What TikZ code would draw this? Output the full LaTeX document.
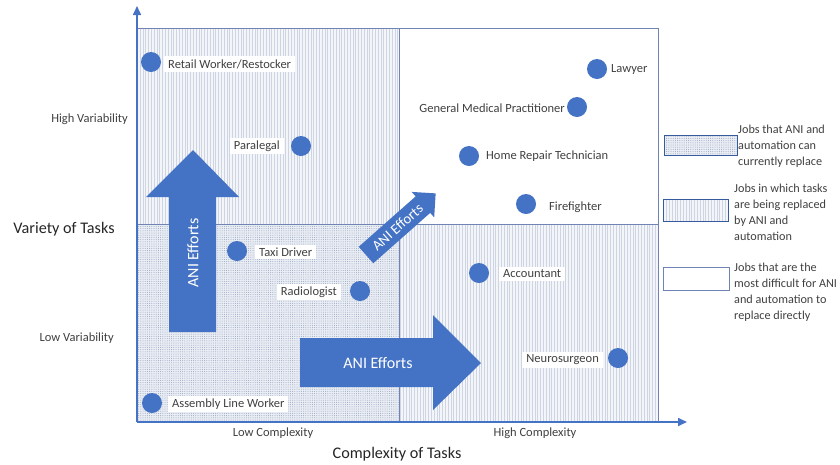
\documentclass[tikz,border=0pt]{standalone}
\usepackage{fontspec}
\setmainfont{Carlito}
\usetikzlibrary{patterns.meta,arrows.meta}
\definecolor{ablue}{HTML}{4472C4}
\definecolor{bord}{HTML}{6F84B2}
\definecolor{patdots}{HTML}{9AA6C0}
\definecolor{patlines}{HTML}{CDD4E4}
\definecolor{tintA}{HTML}{E9EDF4}
\definecolor{tintB}{HTML}{F3F5F9}
\definecolor{txt}{HTML}{404040}
\definecolor{ttl}{HTML}{262626}
\tikzset{
  dotfill/.style={fill=tintA, postaction={pattern={Dots[distance=2.2pt,radius=0.5pt]}, pattern color=patdots}},
  linefill/.style={fill=tintB, postaction={pattern={Lines[angle=90,distance=2.8pt,line width=0.4pt]}, pattern color=patlines}},
  quadborder/.style={draw=bord, line width=0.9pt},
  jdot/.style={circle, fill=ablue, minimum size=20pt, inner sep=0pt},
  jlab/.style={fill=white, inner xsep=4pt, inner ysep=3pt, text=txt, font=\fontsize{12.5}{15}\selectfont},
  axlab/.style={text=txt, inner sep=1pt, font=\fontsize{12.5}{15}\selectfont},
  axtitle/.style={text=ttl, inner sep=1pt, font=\fontsize{16.2}{19}\selectfont},
  efftext/.style={text=white, inner sep=0pt, font=\fontsize{16}{19}\selectfont},
  legtext/.style={text=txt, inner sep=0pt, align=left, anchor=west, font=\fontsize{12.2}{16}\selectfont},
  legbox/.style={draw=ablue!80!black, line width=0.9pt},
  axisline/.style={draw=ablue, line width=1.6pt, -{Triangle[length=9pt,width=8pt]}}
}
\begin{document}
\begin{tikzpicture}[x=1pt,y=-1pt]
\useasboundingbox (0,0) rectangle (840,464);
% quadrants
\path[linefill] (137,28) rectangle (399,224);
\path[fill=white] (399,28) rectangle (658,224);
\path[dotfill] (137,224) rectangle (399,422);
\path[linefill] (399,224) rectangle (658,422);
\draw[quadborder] (137,28) rectangle (399,224);
\draw[quadborder] (399,28) rectangle (658,224);
\draw[quadborder] (137,224) rectangle (399,422);
\draw[quadborder] (399,224) rectangle (658,422);
% big arrows
\fill[ablue] (169,332) -- (169,197) -- (146,197) -- (193,150) -- (239,197) -- (216,197) -- (216,332) -- cycle;
\node[efftext, rotate=90] (effup) at (193,253) {ANI Efforts};
\fill[ablue] (300,338) -- (433,338) -- (433,315) -- (481,363) -- (433,410) -- (433,387) -- (300,387) -- cycle;
\node[efftext] (effright) at (378,363) {ANI Efforts};
\begin{scope}[shift={(366,255)}, rotate=41.5]
\fill[ablue] (0,-11) -- (76,-11) -- (76,-17) -- (93,0) -- (76,17) -- (76,11) -- (0,11) -- cycle;
\node[efftext, rotate=41.5, font=\fontsize{14.5}{17}\selectfont] (effdiag) at (42,0) {ANI Efforts};
\end{scope}
% jobs
\node[jlab, anchor=west] (l1) at (164,64) {Retail Worker/Restocker};
\node[jdot] (d1) at (151,62) {};
\node[jlab, anchor=east] (l2) at (284,146) {Paralegal};
\node[jdot] (d2) at (301,146) {};
\node[jlab, anchor=west] (l3) at (607,69) {Lawyer};
\node[jdot] (d3) at (597,69) {};
\node[jlab, anchor=east] (l4) at (569,108) {General Medical Practitioner};
\node[jdot] (d4) at (577,107) {};
\node[jlab, anchor=west] (l5) at (482,156) {Home Repair Technician};
\node[jdot] (d5) at (469,156) {};
\node[jlab, anchor=west] (l6) at (545,207) {Firefighter};
\node[jdot] (d6) at (526,204) {};
\node[jlab, anchor=west] (l7) at (255,252) {Taxi Driver};
\node[jdot] (d7) at (237,251) {};
\node[jlab, anchor=east] (l8) at (341,292) {Radiologist};
\node[jdot] (d8) at (360,291) {};
\node[jlab, anchor=west] (l9) at (499,274) {Accountant};
\node[jdot] (d9) at (479,273) {};
\node[jlab, anchor=east] (l10) at (603,360) {Neurosurgeon};
\node[jdot] (d10) at (618,358) {};
\node[jlab, anchor=west] (l11) at (168,404) {Assembly Line Worker};
\node[jdot] (d11) at (152,403) {};
% axes
\coordinate (O) at (137,422);
\coordinate (ytip) at (137,6);
\coordinate (xtip) at (687,422);
\draw[axisline] (O) -- (ytip);
\draw[axisline] (O) -- (xtip);
\node[axlab, anchor=east] (hv) at (129,119) {High Variability};
\node[axlab, anchor=east] (lv) at (115,338) {Low Variability};
\node[axtitle] (vt) at (64,229) {Variety of Tasks};
\node[axlab] (lc) at (273,433) {Low Complexity};
\node[axlab] (hc) at (535,433) {High Complexity};
\node[axtitle] (ct) at (397,454) {Complexity of Tasks};
% legend
\path[dotfill] (664,135) rectangle (737,155);
\draw[legbox] (664,135) rectangle (737,155);
\node[legtext] (t1) at (738,146) {Jobs that ANI and\\automation can\\currently replace};
\path[linefill] (663,199) rectangle (728,221);
\draw[legbox] (663,199) rectangle (728,221);
\node[legtext] (t2) at (734,212) {Jobs in which tasks\\are being replaced\\by ANI and\\automation};
\path[fill=white] (663,267) rectangle (729,290);
\draw[legbox, draw=bord] (663,267) rectangle (729,290);
\node[legtext] (t3) at (734,292) {Jobs that are the\\most difficult for ANI\\and automation to\\replace directly};
\end{tikzpicture}
\end{document}
